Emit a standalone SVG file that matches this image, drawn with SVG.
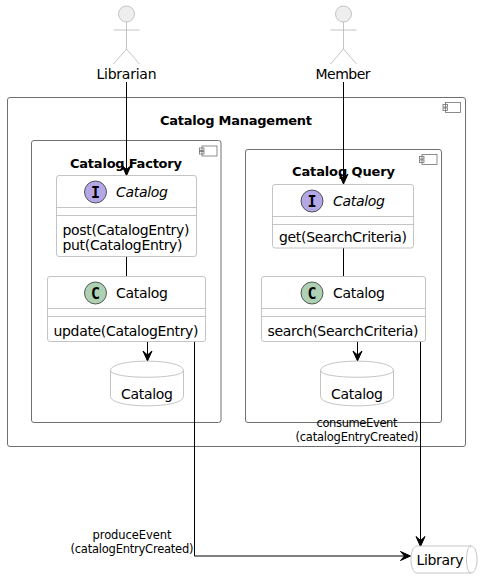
<svg xmlns="http://www.w3.org/2000/svg" width="483" height="579" viewBox="0 0 483 579">
<style>
text{font-family:"DejaVu Sans","Open Sans",sans-serif;fill:#000}
.t{font-size:14px}
.b{font-size:13px;font-weight:700;text-anchor:middle}
.m{font-size:14px}
.s{font-size:11.5px;text-anchor:middle}
.c{fill:none;stroke:#000;stroke-width:1}
.a{fill:#000;stroke:#000;stroke-width:1}
.f{fill:#fff;stroke:#b5b5b5;stroke-width:.8}
.p{fill:none;stroke:#707070;stroke-width:1}
.i{fill:none;stroke:#707070;stroke-width:.8}
.l{fill:none;stroke:#b5b5b5;stroke-width:.8}
.e{stroke:#333;stroke-width:.8}
.g{font-family:"DejaVu Sans Mono",monospace;font-size:15px;font-weight:700;text-anchor:middle}
</style>
<defs>
<g id="icon"><rect x="2.500" y="0" width="15" height="10" class="i"/><rect x="0" y="2" width="4.500" height="2.500" fill="#fff" class="i"/><rect x="0" y="5.500" width="4.500" height="2.500" fill="#fff" class="i"/></g>
<g id="actor" class="l"><circle cx="0" cy="14" r="8" fill="#eeeeee"/><path d="M0 22V49M-13 30H13M0 49L-13 64M0 49L13 64"/></g>
<path id="down" d="M0 0L-4.500 -10L0 -6L4.500 -10Z"/>
</defs>
<g id="component-catalog-management"><rect x="7.500" y="97.500" width="458" height="349" rx="2.500" fill="none" class="p"/><use href="#icon" x="443" y="102.500"/><text x="236" y="125" class="b" textLength="152">Catalog Management</text></g>
<g id="component-catalog-factory"><rect x="31.500" y="140.500" width="189.500" height="282" rx="2.500" fill="none" class="p"/><use href="#icon" x="199.500" y="146"/><text x="126" y="168" class="b" textLength="112">Catalog Factory</text></g>
<g id="component-catalog-query"><rect x="245.500" y="149.500" width="196" height="273" rx="2.500" fill="none" class="p"/><use href="#icon" x="419.500" y="154.500"/><text x="343.500" y="176" class="b" textLength="103">Catalog Query</text></g>
<g id="actor-librarian"><use href="#actor" x="126.500" y="0"/><text x="126.500" y="79" class="t" text-anchor="middle" textLength="60">Librarian</text></g>
<g id="actor-member"><use href="#actor" x="343.500" y="0"/><text x="343" y="79" class="t" text-anchor="middle" textLength="55">Member</text></g>
<g id="connectors">
<path class="c" d="M126.500 82V176M343.500 82V184M126.500 256.500V276.500M343.500 248V276.500M147.500 341.500V358M357.500 341.500V358M194.500 341.500V556H408M420.500 341.500V544"/>
<use href="#down" x="126.500" y="175.500" class="a"/>
<use href="#down" x="343.500" y="184" class="a"/>
<use href="#down" x="147.500" y="361" class="a"/>
<use href="#down" x="357.500" y="361" class="a"/>
<use href="#down" x="420.500" y="546.500" class="a"/>
<path class="a" d="M410.500 556L400.500 551.500L404.500 556L400.500 560.500Z"/>
</g>
<g id="interface-catalog-factory"><rect x="56.500" y="175.500" width="140" height="81" rx="2.500" class="f"/><path class="l" d="M56.500 207.500H196.500M56.500 215.500H196.500"/><circle cx="95.500" cy="192" r="11" fill="#b4a7e5" class="e"/><text x="95.500" y="197.500" class="g">I</text><text x="116" y="197" class="t" font-style="italic" textLength="52">Catalog</text><text x="62.500" y="235" class="m" textLength="127">post(CatalogEntry)</text><text x="62.500" y="250" class="m" textLength="120">put(CatalogEntry)</text></g>
<g id="class-catalog-factory"><rect x="47.500" y="276.500" width="158" height="65" rx="2.500" class="f"/><path class="l" d="M47.500 308.500H205.500M47.500 316.500H205.500"/><circle cx="95.500" cy="293" r="11" fill="#add1b2" class="e"/><text x="95.500" y="298.500" class="g">C</text><text x="116" y="298" class="t" textLength="52">Catalog</text><text x="53.500" y="336" class="m" textLength="145">update(CatalogEntry)</text></g>
<g id="db-catalog-factory"><path class="f" d="M110.500 371C110.500 358.500 183.500 358.500 183.500 371V397C183.500 409.500 110.500 409.500 110.500 397Z" transform="translate(0 -.5)"/><path class="l" d="M110.500 371C110.500 380 183.500 380 183.500 371" transform="translate(0 -.5)"/><text x="147" y="399" class="t" text-anchor="middle" textLength="52">Catalog</text></g>
<g id="interface-catalog-query"><rect x="272.500" y="184.500" width="141" height="63.500" rx="2.500" class="f"/><path class="l" d="M272.500 216.500H413.500M272.500 224.500H413.500"/><circle cx="312" cy="201" r="11" fill="#b4a7e5" class="e"/><text x="312" y="206.500" class="g">I</text><text x="333" y="206" class="t" font-style="italic" textLength="52">Catalog</text><text x="279" y="242" class="m" textLength="128">get(SearchCriteria)</text></g>
<g id="class-catalog-query"><rect x="261.500" y="276.500" width="164" height="65" rx="2.500" class="f"/><path class="l" d="M261.500 308.500H425.500M261.500 316.500H425.500"/><circle cx="312" cy="293" r="11" fill="#add1b2" class="e"/><text x="312" y="298.500" class="g">C</text><text x="333" y="298" class="t" textLength="52">Catalog</text><text x="267.500" y="336" class="m" textLength="151">search(SearchCriteria)</text></g>
<g id="db-catalog-query"><path class="f" d="M320.500 371C320.500 358.500 393.500 358.500 393.500 371V397C393.500 409.500 320.500 409.500 320.500 397Z" transform="translate(0 -.5)"/><path class="l" d="M320.500 371C320.500 380 393.500 380 393.500 371" transform="translate(0 -.5)"/><text x="357" y="399" class="t" text-anchor="middle" textLength="52">Catalog</text></g>
<g id="queue-library"><path class="f" d="M417 546H471C479 546 479 573 471 573H417C409 573 409 546 417 546Z"/><path class="l" d="M471 546C465 546 465 573 471 573"/><text x="416.500" y="565" class="t" textLength="47">Library</text></g>
<g id="labels"><text x="357" y="427" class="s" textLength="81">consumeEvent</text><text x="357" y="441" class="s" textLength="123">(catalogEntryCreated)</text><text x="132" y="539" class="s" textLength="79">produceEvent</text><text x="132" y="553" class="s" textLength="123">(catalogEntryCreated)</text></g>
</svg>
